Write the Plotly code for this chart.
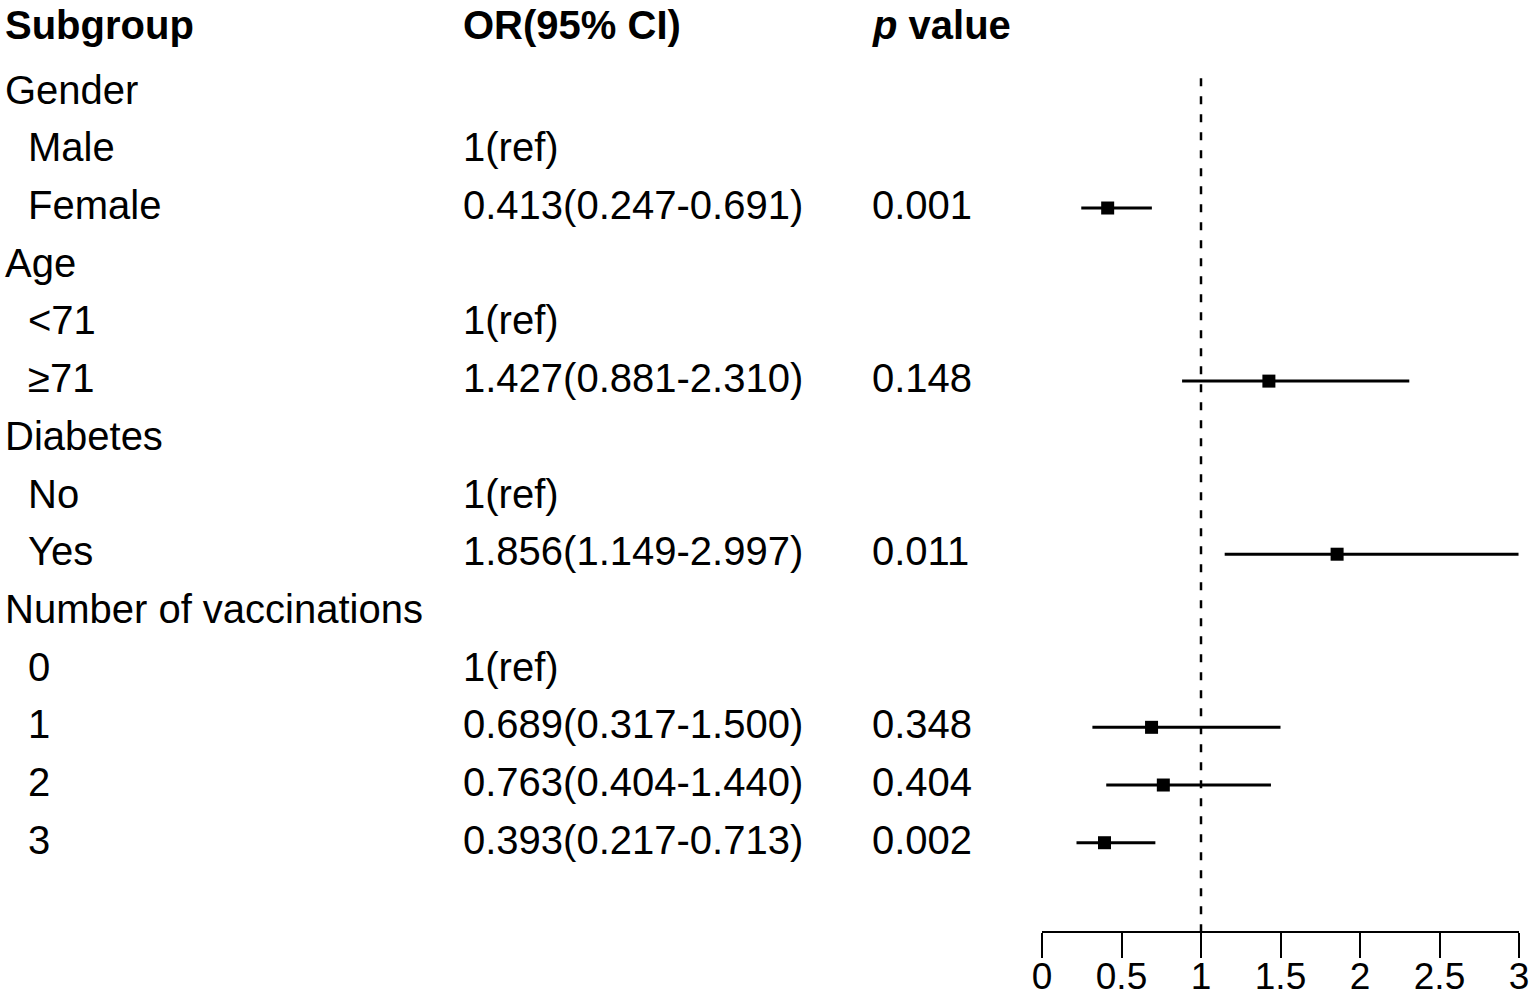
import plotly.graph_objects as go

## Forest plot: subgroup odds ratios ##
labels = ["Gender", "Male", "Female", "Age", "<71", "≥71", "Diabetes", "No", "Yes",
          "Number of vaccinations", "0", "1", "2", "3"]
is_group = [True, False, False, True, False, False, True, False, False, True, False, False, False, False]
or_text = ["", "1(ref)", "0.413(0.247-0.691)", "", "1(ref)", "1.427(0.881-2.310)", "",
           "1(ref)", "1.856(1.149-2.997)", "", "1(ref)", "0.689(0.317-1.500)",
           "0.763(0.404-1.440)", "0.393(0.217-0.713)"]
p_text = ["", "", "0.001", "", "", "0.148", "", "", "0.011", "", "", "0.348", "0.404", "0.002"]
or_val = [None, None, 0.413, None, None, 1.427, None, None, 1.856, None, None, 0.689, 0.763, 0.393]
lo_val = [None, None, 0.247, None, None, 0.881, None, None, 1.149, None, None, 0.317, 0.404, 0.217]
hi_val = [None, None, 0.691, None, None, 2.310, None, None, 2.997, None, None, 1.500, 1.440, 0.713]
xticks = [0, 0.5, 1, 1.5, 2, 2.5, 3]
xtick_labels = ["0", "0.5", "1", "1.5", "2", "2.5", "3"]

FONT = "Liberation Sans, Arial, Helvetica, sans-serif"
W, H = 1535, 998

rows = list(range(len(labels)))
keep = [i for i in rows if or_val[i] is not None]

fig = go.Figure()
fig.add_trace(go.Scatter(
    x=[or_val[i] for i in keep], y=[rows[i] for i in keep],
    mode="markers",
    marker=dict(symbol="square", size=13, color="black"),
    error_x=dict(type="data", symmetric=False,
                 array=[hi_val[i] - or_val[i] for i in keep],
                 arrayminus=[or_val[i] - lo_val[i] for i in keep],
                 width=0, thickness=3, color="black"),
    cliponaxis=False, showlegend=False, hoverinfo="skip"))

# reference line at OR = 1
fig.add_shape(type="line", x0=1, x1=1, y0=-0.25, y1=14.53, xref="x", yref="y",
              line=dict(color="black", width=2.5, dash="8px,10px"))

anns = []
hdr_y = -1.12
anns.append(dict(x=3 / W, y=hdr_y, text="<b>Subgroup</b>"))
anns.append(dict(x=461 / W, y=hdr_y, text="<b>OR(95% CI)</b>"))
anns.append(dict(x=870 / W, y=hdr_y, text="<b><i>p</i> value</b>"))
for i in rows:
    anns.append(dict(x=(3 if is_group[i] else 26) / W, y=rows[i], text=labels[i]))
    if or_text[i]:
        anns.append(dict(x=461 / W, y=rows[i], text=or_text[i]))
    if p_text[i]:
        anns.append(dict(x=870 / W, y=rows[i], text=p_text[i]))
for a in anns:
    a.update(xref="paper", yref="y", xanchor="left", yanchor="middle", showarrow=False,
             yshift=3, font=dict(family=FONT, size=40, color="black"))
fig.update_layout(annotations=anns)

fig.update_layout(
    width=W, height=H,
    margin=dict(l=0, r=0, t=0, b=0, autoexpand=False),
    paper_bgcolor="white", plot_bgcolor="white",
    font=dict(family=FONT, color="black"),
    xaxis=dict(domain=[1042 / W, 1519 / W], range=[0, 3], tickvals=xticks, ticktext=xtick_labels,
               showgrid=False, zeroline=False, showline=True, linecolor="black", linewidth=2,
               ticks="outside", ticklen=25, tickwidth=2, tickcolor="black", automargin=False,
               ticklabelstandoff=-13,
               tickfont=dict(family=FONT, size=37, color="black")),
    yaxis=dict(domain=[(H - 931) / H, 1], range=[14.53, -1.605], visible=False, automargin=False),
)

# drop the default page margin so the figure sits at the window corner
fig.write_html("out.html", config={"displayModeBar": False},
               post_script="document.body.style.margin='0';")
